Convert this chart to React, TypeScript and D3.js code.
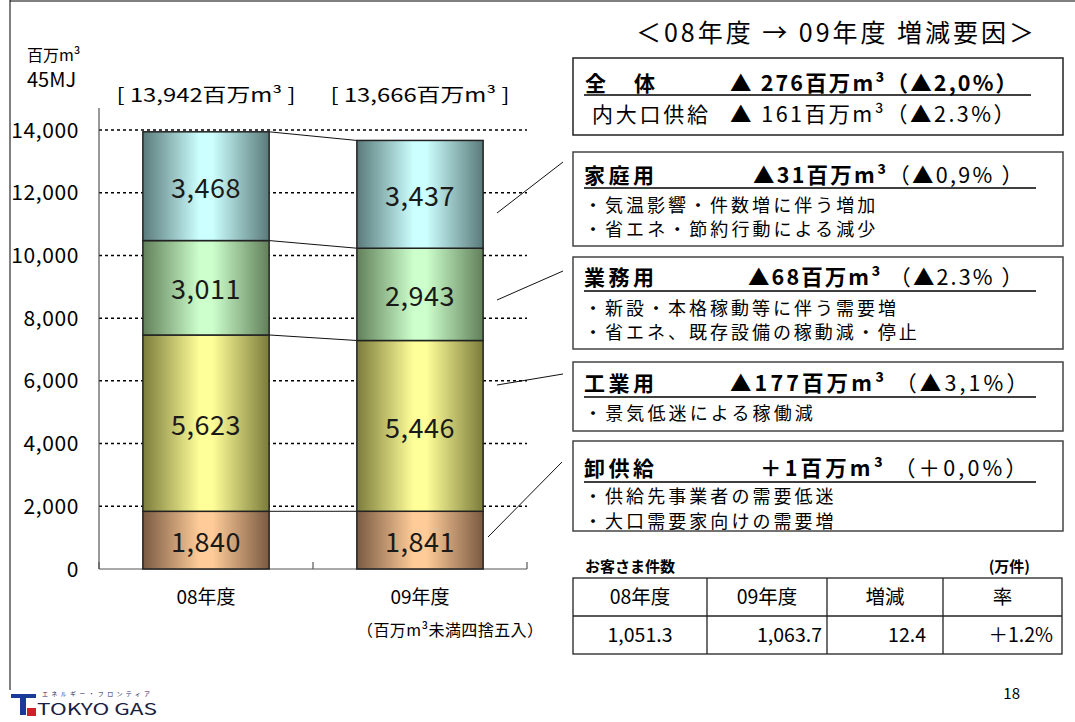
import React from 'react';
import * as d3 from 'd3';

const years = ['08年度', '09年度'];
const segmentNames = ['卸供給', '工業用', '業務用', '家庭用'];
const values08 = [1840, 5623, 3011, 3468];
const values09 = [1841, 5446, 2943, 3437];
const totalLabels = ['[ 13,942百万m³ ]', '[ 13,666百万m³ ]'];
const yTicks = [0, 2000, 4000, 6000, 8000, 10000, 12000, 14000];
const segEdge = ['#7a5a42', '#7c7c3c', '#62805a', '#5a7a7a'];
const segCenter = ['#ffcc99', '#ffff99', '#ccffcc', '#ccffff'];

const titleText = '＜08年度 → 09年度 増減要因＞';
const summaryLine1 = ['全　体', '▲ 276百万m³（▲2,0%）'];
const summaryLine2 = ['内大口供給', '▲ 161百万m³（▲2.3%）'];
const factorTitles = ['家庭用', '業務用', '工業用', '卸供給'];
const factorAmounts = ['▲31百万m³', '▲68百万m³', '▲177百万m³', '＋1百万m³'];
const factorRates = ['（▲0,9% ）', ' （▲2.3% ）', ' （▲3,1%）', ' （＋0,0%）'];
const factorBullets = [
  ['・気温影響・件数増に伴う増加', '・省エネ・節約行動による減少'],
  ['・新設・本格稼動等に伴う需要増', '・省エネ、既存設備の稼動減・停止'],
  ['・景気低迷による稼働減'],
  ['・供給先事業者の需要低迷', '・大口需要家向けの需要増'],
];
const tableTitle = 'お客さま件数';
const tableUnit = '(万件)';
const tableHeaders = ['08年度', '09年度', '増減', '率'];
const tableValues = ['1,051.3', '1,063.7', '12.4', '＋1.2%'];

const FONT = "'Noto Sans CJK JP', 'Noto Sans', sans-serif";

export default function App() {
  const y = d3.scaleLinear().domain([0, 14000]).range([569, 130]);
  const x = d3.scaleBand<string>().domain(years).range([99, 527]).paddingInner(0.41).paddingOuter(0.205);
  const bw = x.bandwidth();
  const series = [values08, values09];
  const stacks = series.map((vals) => {
    let acc = 0;
    return vals.map((v) => {
      const s = { y0: acc, y1: acc + v, v };
      acc += v;
      return s;
    });
  });
  const fmt = d3.format(',');

  const boxes = [
    { y: 152, h: 94, head: 183, ul: 188, bullets: [212, 236], valX: 753, valEnd: 1023 },
    { y: 257, h: 92, head: 285, ul: 291, bullets: [315, 339], valX: 748, valEnd: 1023 },
    { y: 362, h: 69, head: 391, ul: 397, bullets: [420], valX: 730, valEnd: 1028 },
    { y: 441, h: 90, head: 476, ul: 482, bullets: [503, 528], valX: 760, valEnd: 1027 },
  ];
  const pointers = [
    [497, 213, 563, 162],
    [497, 300, 563, 271],
    [497, 385, 563, 374],
    [488, 537, 562, 462],
  ];
  const colX = [573, 707, 827, 943, 1062];

  return (
    <svg width={1075} height={722} style={{ position: 'absolute', left: 0, top: 0, display: 'block', background: '#fff' }} fontFamily={FONT}>
      <defs>
        {segEdge.map((c, i) => (
          <linearGradient key={i} id={`g${i}`} x1="0" x2="1" y1="0" y2="0">
            <stop offset="0" stopColor={c} />
            <stop offset="0.45" stopColor={segCenter[i]} />
            <stop offset="0.55" stopColor={segCenter[i]} />
            <stop offset="1" stopColor={c} />
          </linearGradient>
        ))}
      </defs>
      <rect x={0} y={0} width={1075} height={722} fill="#fff" />
      {/* frame */}
      <line x1={10} y1={1} x2={1075} y2={1} stroke="#000" strokeWidth={1} />
      <line x1={10} y1={0} x2={10} y2={690} stroke="#000" strokeWidth={1} />

      {/* unit */}
      <text x={27} y={61} fontSize={16} fill="#000">百万m³</text>
      <text x={27} y={87} fontSize={20} fill="#000">45MJ</text>

      {/* gridlines */}
      {yTicks.filter((t) => t > 0).map((t) => (
        <line key={t} x1={99} x2={527} y1={y(t)} y2={y(t)} stroke="#000" strokeWidth={1.5} strokeDasharray="3,3" />
      ))}
      {/* y tick labels */}
      {yTicks.map((t) => (
        <text key={t} x={79} y={y(t)} dy="0.36em" textAnchor="end" fontSize={21} letterSpacing={0.6} fill="#000">{fmt(t)}</text>
      ))}
      {/* axes */}
      <line x1={99} x2={99} y1={108} y2={569} stroke="#555" strokeWidth={1.2} />
      <line x1={99} x2={527} y1={569} y2={569} stroke="#555" strokeWidth={1.2} />
      {[99, 313, 527].map((t) => (
        <line key={t} x1={t} x2={t} y1={569} y2={562} stroke="#555" strokeWidth={1.2} />
      ))}

      {/* connectors */}
      {stacks[0].map((s, i) => (
        <line key={i} x1={(x(years[0]) ?? 0) + bw} y1={y(s.y1)} x2={x(years[1]) ?? 0} y2={y(stacks[1][i].y1)} stroke="#111" strokeWidth={1} />
      ))}

      {/* bars */}
      {stacks.map((st, bi) => (
        <g key={bi}>
          {st.map((s, i) => (
            <rect key={i} x={x(years[bi])} y={y(s.y1)} width={bw} height={y(s.y0) - y(s.y1)} fill={`url(#g${i})`} stroke="#222" strokeWidth={1.5}>
              <title>{segmentNames[i]}</title>
            </rect>
          ))}
          {st.map((s, i) => (
            <text key={`t${i}`} x={(x(years[bi]) ?? 0) + bw / 2} y={(y(s.y0) + y(s.y1)) / 2 + 2} dy="0.36em" textAnchor="middle" fontSize={27} fill="#1a1a1a" letterSpacing={0.5}>{fmt(s.v)}</text>
          ))}
          <text x={(x(years[bi]) ?? 0) + bw / 2} y={102} textAnchor="middle" fontSize={19} fill="#000" textLength={179} lengthAdjust="spacingAndGlyphs">{totalLabels[bi]}</text>
          <text x={(x(years[bi]) ?? 0) + bw / 2} y={604} textAnchor="middle" fontSize={19} fill="#000">{years[bi]}</text>
        </g>
      ))}
      <text x={450} y={636} textAnchor="middle" fontSize={16} fill="#000" textLength={186}>（百万m³未満四捨五入）</text>

      {/* title */}
      <text x={636} y={42} fontSize={25} fill="#000" textLength={398}>{titleText}</text>

      {/* summary box */}
      <rect x={573} y={58} width={490} height={77} fill="#fff" stroke="#222" strokeWidth={1.5} />
      <text x={585} y={91} fontSize={21} fontWeight={700} fill="#000" textLength={70}>{summaryLine1[0]}</text>
      <text x={730} y={91} fontSize={21.5} fontWeight={700} fill="#000" textLength={287}>{summaryLine1[1]}</text>
      <line x1={584} x2={1031} y1={95} y2={95} stroke="#000" strokeWidth={1.5} />
      <text x={592} y={122} fontSize={21} fill="#000" textLength={116}>{summaryLine2[0]}</text>
      <text x={730} y={122} fontSize={21.5} fill="#000" textLength={285}>{summaryLine2[1]}</text>

      {/* factor boxes */}
      {boxes.map((b, i) => (
        <g key={i}>
          <rect x={573} y={b.y} width={490} height={b.h} fill="#fff" stroke="#444" strokeWidth={1.5} />
          <text x={584} y={b.head} fontSize={21} fontWeight={700} fill="#000" textLength={70}>{factorTitles[i]}</text>
          <text x={b.valX} y={b.head} fontSize={21.5} fill="#000" textLength={b.valEnd - b.valX}>
            <tspan fontWeight={700}>{factorAmounts[i]}</tspan>
            <tspan>{factorRates[i]}</tspan>
          </text>
          <line x1={584} x2={1036} y1={b.ul} y2={b.ul} stroke="#000" strokeWidth={1.3} />
          {factorBullets[i].map((t, j) => (
            <text key={j} x={584} y={b.bullets[j]} fontSize={18} fill="#000" textLength={t.length * 20.8}>{t}</text>
          ))}
          <line x1={pointers[i][0]} y1={pointers[i][1]} x2={pointers[i][2]} y2={pointers[i][3]} stroke="#111" strokeWidth={1} />
        </g>
      ))}

      {/* table */}
      <text x={585} y={572} fontSize={15} fontWeight={700} fill="#000">{tableTitle}</text>
      <text x={1030} y={572} fontSize={15} fontWeight={700} fill="#000" textAnchor="end">{tableUnit}</text>
      <rect x={573} y={578} width={colX[4] - 573} height={76} fill="#fff" stroke="#222" strokeWidth={1.3} />
      <line x1={573} x2={colX[4]} y1={616} y2={616} stroke="#222" strokeWidth={1.3} />
      {colX.slice(1, 4).map((cx) => (
        <line key={cx} x1={cx} x2={cx} y1={578} y2={654} stroke="#222" strokeWidth={1.3} />
      ))}
      {tableHeaders.map((h, i) => (
        <text key={h} x={(colX[i] + colX[i + 1]) / 2} y={604} textAnchor="middle" fontSize={19.5} fill="#000">{h}</text>
      ))}
      <text x={640} y={642} textAnchor="middle" fontSize={19.5} fill="#000">{tableValues[0]}</text>
      <text x={822} y={642} textAnchor="end" fontSize={19.5} fill="#000">{tableValues[1]}</text>
      <text x={926} y={642} textAnchor="end" fontSize={19.5} fill="#000">{tableValues[2]}</text>
      <text x={1053} y={642} textAnchor="end" fontSize={19.5} fill="#000">{tableValues[3]}</text>

      {/* page number */}
      <text x={1020} y={699} textAnchor="end" fontSize={15} fill="#000">18</text>

      {/* logo */}
      <rect x={11} y={694} width={25} height={4} fill="#1a3a9a" />
      <rect x={20} y={698} width={6} height={17} fill="#1a3a9a" />
      <rect x={27} y={708} width={9} height={8} fill="#d0202a" />
      <text x={42} y={696} fontSize={6} fill="#1a2a5a" textLength={108}>エネルギー・フロンティア</text>
      <text x={37} y={715} fontSize={16} fill="#1a2040" textLength={120} lengthAdjust="spacingAndGlyphs">TOKYO GAS</text>
    </svg>
  );
}
